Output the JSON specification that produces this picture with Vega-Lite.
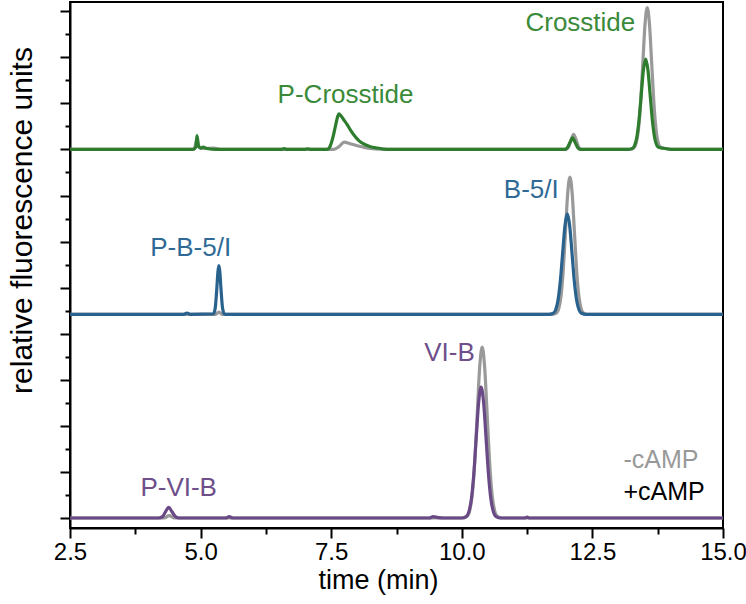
{
  "$schema": "https://vega.github.io/schema/vega-lite/v6.json",
  "width": 653,
  "height": 526,
  "autosize": "none",
  "padding": {"left": 70, "top": 2, "right": 23, "bottom": 76},
  "background": "white",
  "config": {
    "font": "Liberation Sans",
    "view": {"stroke": "black", "strokeWidth": 2},
    "axis": {"grid": false, "domainColor": "black", "domainWidth": 2, "tickColor": "black", "tickWidth": 2, "labelColor": "black", "titleColor": "black", "labelFont": "Liberation Sans", "titleFont": "Liberation Sans", "titleFontWeight": "normal"}
  },
  "datasets": {
    "cross_minus": [
      {"t": 2.5, "v": 8.0}, {"t": 4.87, "v": 8.0}, {"t": 4.93, "v": 8.2}, {"t": 4.97, "v": 8.05}, {"t": 5.05, "v": 8.02}, {"t": 5.25, "v": 8.03}, {"t": 5.4, "v": 8.0},
      {"t": 7.55, "v": 8.0}, {"t": 7.65, "v": 8.06}, {"t": 7.75, "v": 8.16}, {"t": 7.85, "v": 8.13}, {"t": 8.0, "v": 8.08}, {"t": 8.15, "v": 8.04}, {"t": 8.35, "v": 8.01}, {"t": 8.5, "v": 8.0},
      {"t": 11.99, "v": 8.0}, {"t": 12.04, "v": 8.045}, {"t": 12.09, "v": 8.2}, {"t": 12.14, "v": 8.33}, {"t": 12.19, "v": 8.2}, {"t": 12.24, "v": 8.045}, {"t": 12.29, "v": 8.0},
      {"t": 13.21, "v": 8.0}, {"t": 13.295, "v": 8.034}, {"t": 13.3375, "v": 8.135}, {"t": 13.38, "v": 8.417}, {"t": 13.4225, "v": 9.0}, {"t": 13.465, "v": 9.868}, {"t": 13.5075, "v": 10.718}, {"t": 13.55, "v": 11.08}, {"t": 13.5925, "v": 10.718}, {"t": 13.635, "v": 9.868}, {"t": 13.6775, "v": 9.0}, {"t": 13.72, "v": 8.417}, {"t": 13.7625, "v": 8.135}, {"t": 13.805, "v": 8.05}, {"t": 13.9, "v": 8.02}, {"t": 14.0, "v": 8.0},
      {"t": 15.0, "v": 8.0}
    ],
    "cross_plus": [
      {"t": 2.5, "v": 8.0}, {"t": 4.85, "v": 8.0}, {"t": 4.91, "v": 8.05}, {"t": 4.93, "v": 8.3}, {"t": 4.96, "v": 8.08}, {"t": 5.0, "v": 8.03}, {"t": 5.05, "v": 8.05}, {"t": 5.12, "v": 8.02}, {"t": 5.3, "v": 8.0},
      {"t": 6.55, "v": 8.0}, {"t": 6.6, "v": 8.02}, {"t": 6.65, "v": 8.0}, {"t": 7.0, "v": 8.0}, {"t": 7.05, "v": 8.015}, {"t": 7.1, "v": 8.0},
      {"t": 7.42, "v": 8.0}, {"t": 7.48, "v": 8.07}, {"t": 7.53, "v": 8.25}, {"t": 7.58, "v": 8.5}, {"t": 7.62, "v": 8.7}, {"t": 7.65, "v": 8.77}, {"t": 7.68, "v": 8.74}, {"t": 7.73, "v": 8.66}, {"t": 7.8, "v": 8.55}, {"t": 7.87, "v": 8.42}, {"t": 7.95, "v": 8.29}, {"t": 8.03, "v": 8.19}, {"t": 8.12, "v": 8.12}, {"t": 8.25, "v": 8.06}, {"t": 8.38, "v": 8.03}, {"t": 8.5, "v": 8.01}, {"t": 8.6, "v": 8.0},
      {"t": 11.97, "v": 8.0}, {"t": 12.02, "v": 8.035}, {"t": 12.07, "v": 8.15}, {"t": 12.12, "v": 8.25}, {"t": 12.17, "v": 8.15}, {"t": 12.22, "v": 8.035}, {"t": 12.27, "v": 8.0},
      {"t": 13.18, "v": 8.0}, {"t": 13.265, "v": 8.022}, {"t": 13.3075, "v": 8.086}, {"t": 13.35, "v": 8.265}, {"t": 13.3925, "v": 8.636}, {"t": 13.435, "v": 9.189}, {"t": 13.4775, "v": 9.73}, {"t": 13.52, "v": 9.96}, {"t": 13.5625, "v": 9.73}, {"t": 13.605, "v": 9.189}, {"t": 13.6475, "v": 8.636}, {"t": 13.69, "v": 8.265}, {"t": 13.7325, "v": 8.09}, {"t": 13.775, "v": 8.04}, {"t": 13.85, "v": 8.025}, {"t": 13.95, "v": 8.01}, {"t": 14.05, "v": 8.0},
      {"t": 15.0, "v": 8.0}
    ],
    "b5_minus": [
      {"t": 2.5, "v": 4.42}, {"t": 5.28, "v": 4.42}, {"t": 5.35, "v": 4.47}, {"t": 5.42, "v": 4.42},
      {"t": 11.73, "v": 4.42}, {"t": 11.815, "v": 4.453}, {"t": 11.8575, "v": 4.551}, {"t": 11.9, "v": 4.823}, {"t": 11.9425, "v": 5.388}, {"t": 11.985, "v": 6.227}, {"t": 12.0275, "v": 7.05}, {"t": 12.07, "v": 7.4}, {"t": 12.1125, "v": 7.05}, {"t": 12.155, "v": 6.227}, {"t": 12.1975, "v": 5.388}, {"t": 12.24, "v": 4.823}, {"t": 12.2825, "v": 4.551}, {"t": 12.325, "v": 4.453}, {"t": 12.41, "v": 4.42},
      {"t": 15.0, "v": 4.42}
    ],
    "b5_plus": [
      {"t": 2.5, "v": 4.42}, {"t": 4.68, "v": 4.42}, {"t": 4.74, "v": 4.45}, {"t": 4.8, "v": 4.42},
      {"t": 5.245, "v": 4.43}, {"t": 5.28, "v": 4.56}, {"t": 5.315, "v": 5.06}, {"t": 5.3325, "v": 5.355}, {"t": 5.35, "v": 5.48}, {"t": 5.3675, "v": 5.355}, {"t": 5.385, "v": 5.06}, {"t": 5.42, "v": 4.56}, {"t": 5.455, "v": 4.43}, {"t": 5.5, "v": 4.42},
      {"t": 11.66, "v": 4.42}, {"t": 11.75, "v": 4.444}, {"t": 11.795, "v": 4.516}, {"t": 11.84, "v": 4.715}, {"t": 11.885, "v": 5.128}, {"t": 11.93, "v": 5.742}, {"t": 11.975, "v": 6.344}, {"t": 12.02, "v": 6.6}, {"t": 12.065, "v": 6.344}, {"t": 12.11, "v": 5.742}, {"t": 12.155, "v": 5.128}, {"t": 12.2, "v": 4.715}, {"t": 12.245, "v": 4.516}, {"t": 12.29, "v": 4.444}, {"t": 12.38, "v": 4.42},
      {"t": 15.0, "v": 4.42}
    ],
    "vi_minus": [
      {"t": 2.5, "v": 0}, {"t": 4.3, "v": 0}, {"t": 4.4, "v": 0.05}, {"t": 4.5, "v": 0},
      {"t": 10.01, "v": 0}, {"t": 10.105, "v": 0.041}, {"t": 10.1525, "v": 0.163}, {"t": 10.2, "v": 0.502}, {"t": 10.2475, "v": 1.205}, {"t": 10.295, "v": 2.25}, {"t": 10.3425, "v": 3.274}, {"t": 10.39, "v": 3.71}, {"t": 10.4375, "v": 3.274}, {"t": 10.485, "v": 2.25}, {"t": 10.5325, "v": 1.205}, {"t": 10.58, "v": 0.502}, {"t": 10.6275, "v": 0.163}, {"t": 10.675, "v": 0.041}, {"t": 10.77, "v": 0},
      {"t": 15.0, "v": 0}
    ],
    "vi_plus": [
      {"t": 2.5, "v": 0}, {"t": 4.2, "v": 0}, {"t": 4.27, "v": 0.03}, {"t": 4.33, "v": 0.14}, {"t": 4.39, "v": 0.23}, {"t": 4.45, "v": 0.14}, {"t": 4.51, "v": 0.04}, {"t": 4.58, "v": 0},
      {"t": 5.48, "v": 0}, {"t": 5.55, "v": 0.03}, {"t": 5.62, "v": 0},
      {"t": 9.38, "v": 0}, {"t": 9.45, "v": 0.03}, {"t": 9.55, "v": 0.01}, {"t": 9.65, "v": 0},
      {"t": 9.99, "v": 0}, {"t": 10.085, "v": 0.0315}, {"t": 10.1325, "v": 0.125}, {"t": 10.18, "v": 0.384}, {"t": 10.2275, "v": 0.922}, {"t": 10.275, "v": 1.722}, {"t": 10.3225, "v": 2.506}, {"t": 10.37, "v": 2.84}, {"t": 10.4175, "v": 2.506}, {"t": 10.465, "v": 1.722}, {"t": 10.5125, "v": 0.922}, {"t": 10.56, "v": 0.384}, {"t": 10.6075, "v": 0.125}, {"t": 10.655, "v": 0.0315}, {"t": 10.75, "v": 0},
      {"t": 11.2, "v": 0}, {"t": 11.25, "v": 0.02}, {"t": 11.3, "v": 0},
      {"t": 15.0, "v": 0}
    ],
    "labels": [
      {"label": "Crosstide", "grp": "Crosstide", "t": 12.27, "v": 10.755},
      {"label": "P-Crosstide", "grp": "Crosstide", "t": 7.774, "v": 9.171},
      {"label": "B-5/I", "grp": "B-5/I", "t": 11.33, "v": 7.13},
      {"label": "P-B-5/I", "grp": "B-5/I", "t": 4.81, "v": 5.868},
      {"label": "VI-B", "grp": "VI-B", "t": 9.765, "v": 3.573},
      {"label": "P-VI-B", "grp": "VI-B", "t": 4.58, "v": 0.645}
    ],
    "legend_labels": [
      {"label": "-cAMP", "grp": "-cAMP", "t": 13.095, "v": 1.252},
      {"label": "+cAMP", "grp": "+cAMP", "t": 13.095, "v": 0.564}
    ]
  },
  "encoding": {
    "x": {
      "field": "t", "type": "quantitative",
      "scale": {"domain": [2.5, 15], "nice": false, "zero": false},
      "axis": {
        "title": "time (min)",
        "values": [2.5, 3.75, 5, 6.25, 7.5, 8.75, 10, 11.25, 12.5, 13.75, 15],
        "labelExpr": "datum.value % 2.5 === 0 ? format(datum.value, '.1f') : ''",
        "tickSize": {"condition": {"test": "datum.value % 2.5 === 0", "value": 10}, "value": 6},
        "labelFontSize": 24, "labelPadding": 2, "labelFlush": false,
        "titleFontSize": 27, "titleX": 308, "titleY": 52, "titleAlign": "center", "titleBaseline": "middle"
      }
    },
    "y": {
      "field": "v", "type": "quantitative",
      "scale": {"domain": [-0.217, 11.2], "nice": false, "zero": false},
      "axis": {
        "title": "relative fluorescence units",
        "values": [0, 0.5, 1, 1.5, 2, 2.5, 3, 3.5, 4, 4.5, 5, 5.5, 6, 6.5, 7, 7.5, 8, 8.5, 9, 9.5, 10, 10.5, 11],
        "labels": false,
        "tickSize": {"condition": {"test": "datum.value % 1 === 0", "value": 10}, "value": 5},
        "titleFontSize": 30, "titleAngle": 270, "titleX": -48, "titleY": 218, "titleAlign": "center", "titleBaseline": "middle"
      }
    }
  },
  "layer": [
    {"data": {"name": "cross_minus"}, "mark": {"type": "line", "color": "#999999", "strokeWidth": 3.2, "interpolate": "monotone"}},
    {"data": {"name": "b5_minus"}, "mark": {"type": "line", "color": "#999999", "strokeWidth": 3.2, "interpolate": "monotone"}},
    {"data": {"name": "vi_minus"}, "mark": {"type": "line", "color": "#999999", "strokeWidth": 3.2, "interpolate": "monotone"}},
    {"data": {"name": "cross_plus"}, "mark": {"type": "line", "color": "#2e7d2e", "strokeWidth": 3.2, "interpolate": "monotone"}},
    {"data": {"name": "b5_plus"}, "mark": {"type": "line", "color": "#2a628e", "strokeWidth": 3.2, "interpolate": "monotone"}},
    {"data": {"name": "vi_plus"}, "mark": {"type": "line", "color": "#6a4a86", "strokeWidth": 3.2, "interpolate": "monotone"}},
    {
      "data": {"name": "labels"},
      "mark": {"type": "text", "fontSize": 26, "align": "center", "baseline": "middle", "font": "Liberation Sans"},
      "encoding": {
        "text": {"field": "label"},
        "color": {
          "field": "grp", "type": "nominal", "legend": null,
          "scale": {"domain": ["Crosstide", "B-5/I", "VI-B", "-cAMP", "+cAMP"], "range": ["#3a8a3a", "#2f6a96", "#6e4f8a", "#999999", "#000000"]}
        }
      }
    },
    {
      "data": {"name": "legend_labels"},
      "mark": {"type": "text", "fontSize": 25, "align": "left", "baseline": "middle", "font": "Liberation Sans"},
      "encoding": {
        "text": {"field": "label"},
        "color": {"field": "grp", "type": "nominal", "legend": null}
      }
    }
  ]
}
